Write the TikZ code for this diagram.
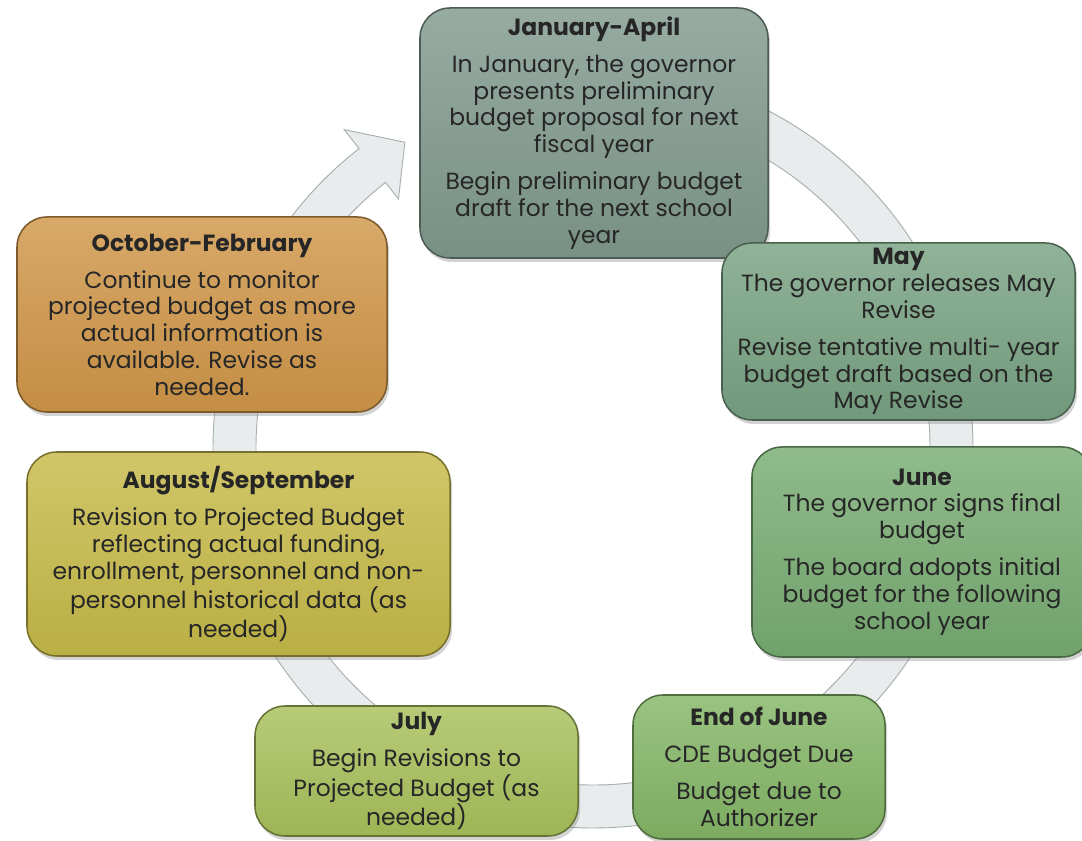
\documentclass[tikz,border=0pt]{standalone}
\usepackage{fontspec}
\setmainfont{Poppins}
\usetikzlibrary{calc,shadows}

\definecolor{ringfill}{RGB}{233,236,236}
\definecolor{ringline}{RGB}{168,175,175}
\definecolor{textgrey}{RGB}{38,38,38}
\definecolor{janfill}{RGB}{128,153,141}
\definecolor{octfill}{RGB}{208,150,72}
\definecolor{mayfill}{RGB}{120,162,130}
\definecolor{junefill}{RGB}{120,172,114}
\definecolor{endfill}{RGB}{132,182,102}
\definecolor{julyfill}{RGB}{168,192,90}
\definecolor{augfill}{RGB}{198,186,72}

\begin{document}
\begin{tikzpicture}[x=0.03cm, y=0.03cm,
	phase/.style={draw=#1!60!black, line width=1.3pt, rounded corners=0.9cm,
		top color=#1!82!white, bottom color=#1!94!black,
		drop shadow={shadow xshift=0.6mm, shadow yshift=-1.2mm, opacity=0.35},
		align=center, text=textgrey, inner sep=0pt,
		font=\fontsize{20}{22.8}\selectfont},
	ring/.style={fill=ringfill, draw=ringline, line width=0.8pt, line join=miter}]
	\useasboundingbox (0, 0) rectangle (1082, 841);

	%%draw the ring arrow
	\coordinate (hub) at (593, 393);
	\path[ring] ($(hub)+(90:380)$) arc[start angle=90, end angle=-232, radius=380]
		-- ($(hub)+(-232:404)$) -- ($(hub)+(-238.4:359)$) -- ($(hub)+(-232:316)$)
		-- ($(hub)+(-232:337)$) arc[start angle=-232, end angle=90, radius=337] -- cycle;

	%%draw the boxes
	\node[phase=janfill, minimum width=10.44cm, minimum height=7.5cm] (jan) at (594, 708)
		{\textbf{January-April}\\[9pt]
		In January, the governor\\ presents preliminary\\ budget proposal for next\\ fiscal year\\[9pt]
		Begin preliminary budget\\ draft for the next school\\ year};

	\node[phase=octfill, minimum width=11.1cm, minimum height=5.85cm] (oct) at (202, 526.5)
		{\textbf{October-February}\\[9pt]
		Continue to monitor\\ projected budget as more\\ actual information is\\ available. Revise as\\ needed.};

	\node[phase=mayfill, minimum width=10.59cm, minimum height=5.31cm] (may) at (898.5, 509.5)
		{\textbf{May}\\
		The governor releases May\\ Revise\\[9pt]
		Revise tentative multi- year\\ budget draft based on the\\ May Revise};

	\node[phase=junefill, minimum width=10.2cm, minimum height=6.3cm] (june) at (922, 289)
		{\textbf{June}\\
		The governor signs final\\ budget\\[9pt]
		The board adopts initial\\ budget for the following\\ school year};

	\node[phase=endfill, minimum width=7.56cm, minimum height=4.32cm] (endjune) at (759, 74)
		{\textbf{End of June}\\[9pt]
		CDE Budget Due\\[9pt]
		Budget due to\\ Authorizer};

	\node[phase=julyfill, minimum width=9.69cm, minimum height=3.9cm] (july) at (416.5, 70)
		{\textbf{July}\\[9pt]
		Begin Revisions to\\ Projected Budget (as\\ needed)};

	\node[phase=augfill, minimum width=12.69cm, minimum height=6.12cm] (aug) at (238.5, 287)
		{\textbf{August/September}\\[9pt]
		Revision to Projected Budget\\ reflecting actual funding,\\ enrollment, personnel and non-\\ personnel historical data (as\\ needed)};
\end{tikzpicture}
\end{document}
